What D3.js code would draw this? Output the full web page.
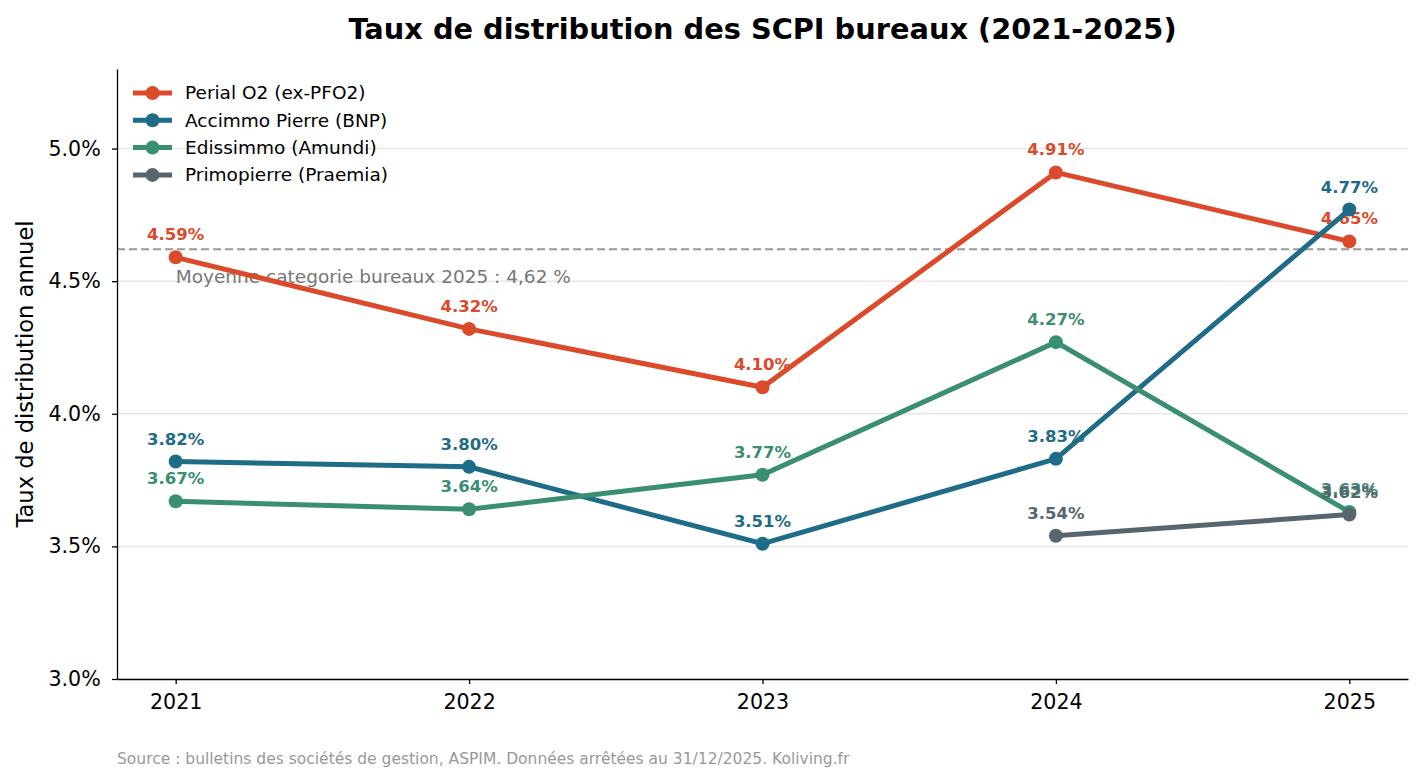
<!DOCTYPE html>
<html>
<head>
<meta charset="utf-8">
<script src="https://cdn.jsdelivr.net/npm/d3@7"></script>
<style>
  body { margin: 0; background: #fff; }
  text { font-family: "DejaVu Sans", sans-serif; }
</style>
</head>
<body>
<div id="chart"></div>
<script>
// Data
const years = [2021, 2022, 2023, 2024, 2025];
const perial = [4.59, 4.32, 4.10, 4.91, 4.65];
const accimmo = [3.82, 3.80, 3.51, 3.83, 4.77];
const edissimmo = [3.67, 3.64, 3.77, 4.27, 3.63];
const primopierre = [null, null, null, 3.54, 3.62];
const yTicks = [3.0, 3.5, 4.0, 4.5, 5.0];
const categoryAverage = 4.62;

const series = [
    { name: "Perial O2 (ex-PFO2)", values: perial, color: "#db4a2b" },
    { name: "Accimmo Pierre (BNP)", values: accimmo, color: "#1f6c88" },
    { name: "Edissimmo (Amundi)", values: edissimmo, color: "#3a8e71" },
    { name: "Primopierre (Praemia)", values: primopierre, color: "#58656e" },
];

const settings = {
    width: 1423,
    height: 783,
    left: 117,
    right: 1408,
    top: 69,
    bottom: 679,
};

const svg = d3.select("#chart").append("svg")
    .attr("width", settings.width)
    .attr("height", settings.height);

const x = d3.scaleLinear()
    .domain([2020.8, 2025.2])
    .range([settings.left, settings.right]);

const y = d3.scaleLinear()
    .domain([3.0, 5.3])
    .range([settings.bottom, settings.top]);

// grid lines
svg.append("g")
    .selectAll("line")
    .data(yTicks)
    .join("line")
    .attr("x1", settings.left)
    .attr("x2", settings.right)
    .attr("y1", d => y(d))
    .attr("y2", d => y(d))
    .attr("stroke", "#e6e6e6")
    .attr("stroke-width", 1.5);

// average line
svg.append("line")
    .attr("x1", settings.left)
    .attr("x2", settings.right)
    .attr("y1", y(categoryAverage))
    .attr("y2", y(categoryAverage))
    .attr("stroke", "#999")
    .attr("stroke-width", 2)
    .attr("stroke-dasharray", "8,4");

svg.append("text")
    .attr("x", x(2021))
    .attr("y", y(categoryAverage) + 34)
    .attr("font-size", 18.5)
    .attr("fill", "#777")
    .text("Moyenne categorie bureaux 2025 : 4,62 %");

// axes
const xAxis = svg.append("g")
    .attr("transform", `translate(0,${settings.bottom})`)
    .call(d3.axisBottom(x).tickValues(years).tickFormat(d3.format("d")).tickSize(5).tickSizeOuter(0));

const yAxis = svg.append("g")
    .attr("transform", `translate(${settings.left},0)`)
    .call(d3.axisLeft(y).tickValues(yTicks).tickFormat(d => d.toFixed(1) + "%").tickSize(5).tickSizeOuter(0));

[xAxis, yAxis].forEach(axis => {
    axis.select(".domain").attr("stroke", "#000").attr("stroke-width", 1.3);
    axis.selectAll(".tick line").attr("stroke", "#000").attr("stroke-width", 1.3);
    axis.selectAll(".tick text")
        .attr("font-family", "DejaVu Sans, sans-serif")
        .attr("font-size", 20.6)
        .attr("fill", "#000");
});
xAxis.selectAll(".tick text").attr("dy", "1.05em");
yAxis.selectAll(".tick text").attr("dx", "-0.4em");

// lines and markers
const line = d3.line()
    .defined(d => d.v !== null)
    .x(d => x(d.year))
    .y(d => y(d.v));

series.forEach(s => {
    const points = years.map((year, i) => ({ year, v: s.values[i] }));
    const valid = points.filter(p => p.v !== null);

    svg.append("path")
        .datum(points)
        .attr("fill", "none")
        .attr("stroke", s.color)
        .attr("stroke-width", 5)
        .attr("d", line);

    svg.append("g")
        .selectAll("circle")
        .data(valid)
        .join("circle")
        .attr("cx", d => x(d.year))
        .attr("cy", d => y(d.v))
        .attr("r", 7)
        .attr("fill", s.color);

    svg.append("g")
        .selectAll("text")
        .data(valid)
        .join("text")
        .attr("x", d => x(d.year))
        .attr("y", d => y(d.v) - 17)
        .attr("text-anchor", "middle")
        .attr("font-size", 16.5)
        .attr("font-weight", "bold")
        .attr("fill", s.color)
        .text(d => d.v.toFixed(2) + "%");
});

// legend
const legend = svg.append("g").attr("transform", "translate(133,93)");
series.forEach((s, i) => {
    const row = legend.append("g").attr("transform", `translate(0,${i * 27.3})`);
    row.append("line")
        .attr("x1", 0).attr("x2", 39)
        .attr("stroke", s.color)
        .attr("stroke-width", 5);
    row.append("circle")
        .attr("cx", 19.5)
        .attr("r", 7)
        .attr("fill", s.color);
    row.append("text")
        .attr("x", 52)
        .attr("dy", "0.35em")
        .attr("font-size", 18.5)
        .attr("fill", "#000")
        .text(s.name);
});

// title
svg.append("text")
    .attr("x", (settings.left + settings.right) / 2)
    .attr("y", 39)
    .attr("text-anchor", "middle")
    .attr("font-size", 28.8)
    .attr("font-weight", "bold")
    .text("Taux de distribution des SCPI bureaux (2021-2025)");

// y label
svg.append("text")
    .attr("transform", `translate(33,${(settings.top + settings.bottom) / 2}) rotate(-90)`)
    .attr("text-anchor", "middle")
    .attr("font-size", 22.6)
    .text("Taux de distribution annuel");

// source
svg.append("text")
    .attr("x", settings.left)
    .attr("y", 764)
    .attr("font-size", 15.5)
    .attr("fill", "#999")
    .text("Source : bulletins des sociétés de gestion, ASPIM. Données arrêtées au 31/12/2025. Koliving.fr");
</script>
</body>
</html>
